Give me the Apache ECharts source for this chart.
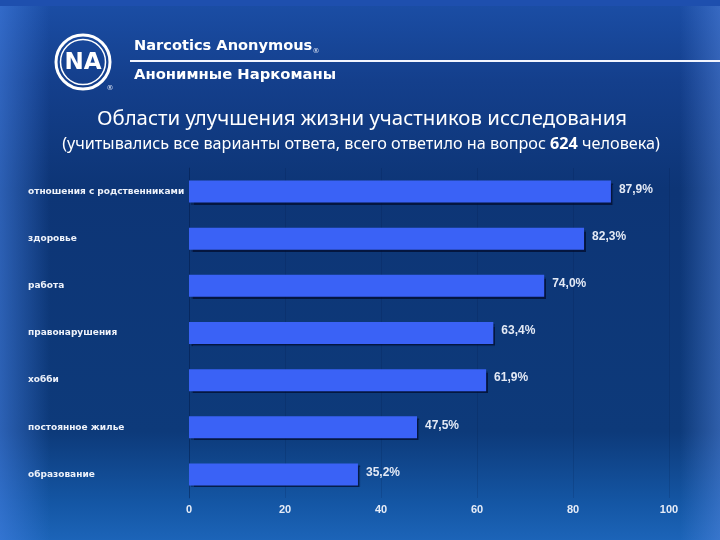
<!DOCTYPE html>
<html><head><meta charset="utf-8">
<script src="https://cdn.jsdelivr.net/npm/echarts@6/dist/echarts.min.js"></script>
<style>html,body{margin:0;padding:0;}#c{width:720px;height:540px;}</style>
</head><body><div id="c"></div>
<script>
var categories = ['отношения с родственниками','здоровье','работа','правонарушения','хобби','постоянное жилье','образование'];
var values = [87.9, 82.3, 74.0, 63.4, 61.9, 47.5, 35.2];
var valueLabels = ['87,9%','82,3%','74,0%','63,4%','61,9%','47,5%','35,2%'];
var xTicks = [0, 20, 40, 60, 80, 100];
var titleText = 'Области улучшения жизни участников исследования';
var subtitleParts = ['(учитывались все варианты ответа, всего ответило на вопрос ', '624', ' человека)'];

var chart = echarts.init(document.getElementById('c'));
var option = {
  backgroundColor: {type:'linear', x:0, y:0, x2:0, y2:1, colorStops:[
    {offset:0, color:'#1b4ea6'},{offset:0.15, color:'#143f8c'},{offset:0.35, color:'#0d3576'},
    {offset:0.8, color:'#0d3a7a'},{offset:0.93, color:'#1456a4'},{offset:1, color:'#1c64b8'}]},
  graphic: [
    {type:'rect', z:-10, silent:true, shape:{x:0,y:0,width:50,height:540},
      style:{fill:{type:'linear',x:0,y:0,x2:1,y2:0,colorStops:[{offset:0,color:'rgba(70,130,230,0.55)'},{offset:1,color:'rgba(70,130,230,0)'}]}}},
    {type:'rect', z:-10, silent:true, shape:{x:680,y:0,width:40,height:540},
      style:{fill:{type:'linear',x:0,y:0,x2:1,y2:0,colorStops:[{offset:0,color:'rgba(90,140,230,0)'},{offset:1,color:'rgba(90,140,230,0.45)'}]}}},
    {type:'rect', z:-10, silent:true, shape:{x:0,y:0,width:720,height:6}, style:{fill:'#1e4fae'}},
    {type:'circle', shape:{cx:83, cy:62, r:27}, style:{fill:'none', stroke:'#ffffff', lineWidth:3}},
    {type:'circle', shape:{cx:83, cy:62, r:22.5}, style:{fill:'none', stroke:'#ffffff', lineWidth:1.5}},
    {type:'text', x:83, y:63, style:{text:'NA', fill:'#ffffff', font:'bold 23px "DejaVu Sans"', align:'center', verticalAlign:'middle'}},
    {type:'text', x:110, y:88, style:{text:'®', fill:'#dfe6f5', font:'7px "DejaVu Sans"', align:'center', verticalAlign:'middle'}},
    {type:'text', x:134, y:46, style:{text:'Narcotics Anonymous', fill:'#ffffff', font:'bold 14.6px "DejaVu Sans"', align:'left', verticalAlign:'middle'}},
    {type:'text', x:316, y:51, style:{text:'®', fill:'#dfe6f5', font:'7px "DejaVu Sans"', align:'center', verticalAlign:'middle'}},
    {type:'rect', shape:{x:130, y:60, width:590, height:2}, style:{fill:'#f2f5ff'}},
    {type:'text', x:134, y:75, style:{text:'Анонимные Наркоманы', fill:'#ffffff', font:'bold 14.8px "DejaVu Sans"', align:'left', verticalAlign:'middle'}},
    {type:'text', x:362, y:119, style:{text:titleText, fill:'#ffffff', font:'20.4px "Noto Sans"', align:'center', verticalAlign:'middle'}},
    {type:'text', x:361, y:144, style:{
      text:'{r|'+subtitleParts[0]+'}{b|'+subtitleParts[1]+'}{r|'+subtitleParts[2]+'}',
      align:'center', verticalAlign:'middle',
      rich:{r:{fill:'#ffffff', font:'16.2px "Noto Sans"'}, b:{fill:'#ffffff', font:'bold 16.2px "Noto Sans"'}}}}
  ],
  grid: {left:189, right:51, top:168, bottom:42, containLabel:false},
  xAxis: {type:'value', min:0, max:100, interval:20,
    axisLine:{show:false}, axisTick:{show:false},
    splitLine:{show:true, lineStyle:{color:'rgba(0,20,60,0.15)', width:1}},
    axisLabel:{color:'#e6ecf7', fontFamily:'Liberation Sans', fontWeight:'bold', fontSize:11, margin:6,
      formatter:function(v){return xTicks.indexOf(v)>=0 ? String(v) : '';}}},
  yAxis: {type:'category', data:categories, inverse:true,
    axisLine:{show:true, lineStyle:{color:'rgba(0,20,60,0.3)'}}, axisTick:{show:false},
    axisLabel:{color:'#eef2fa', fontFamily:'DejaVu Sans', fontWeight:'bold', fontSize:9, align:'left', margin:161}},
  series: [{type:'bar', data:values, barWidth:22,
    itemStyle:{color:'#3a62f6', shadowColor:'rgba(0,8,40,0.7)', shadowOffsetX:2, shadowOffsetY:2, shadowBlur:1},
    label:{show:true, position:'right', distance:8, color:'#e3e9f5', fontFamily:'Liberation Sans', fontWeight:'bold', fontSize:12,
      offset:[0,-2],
      formatter:function(p){return valueLabels[p.dataIndex];}}}]
};
chart.setOption(option);
</script></body></html>
